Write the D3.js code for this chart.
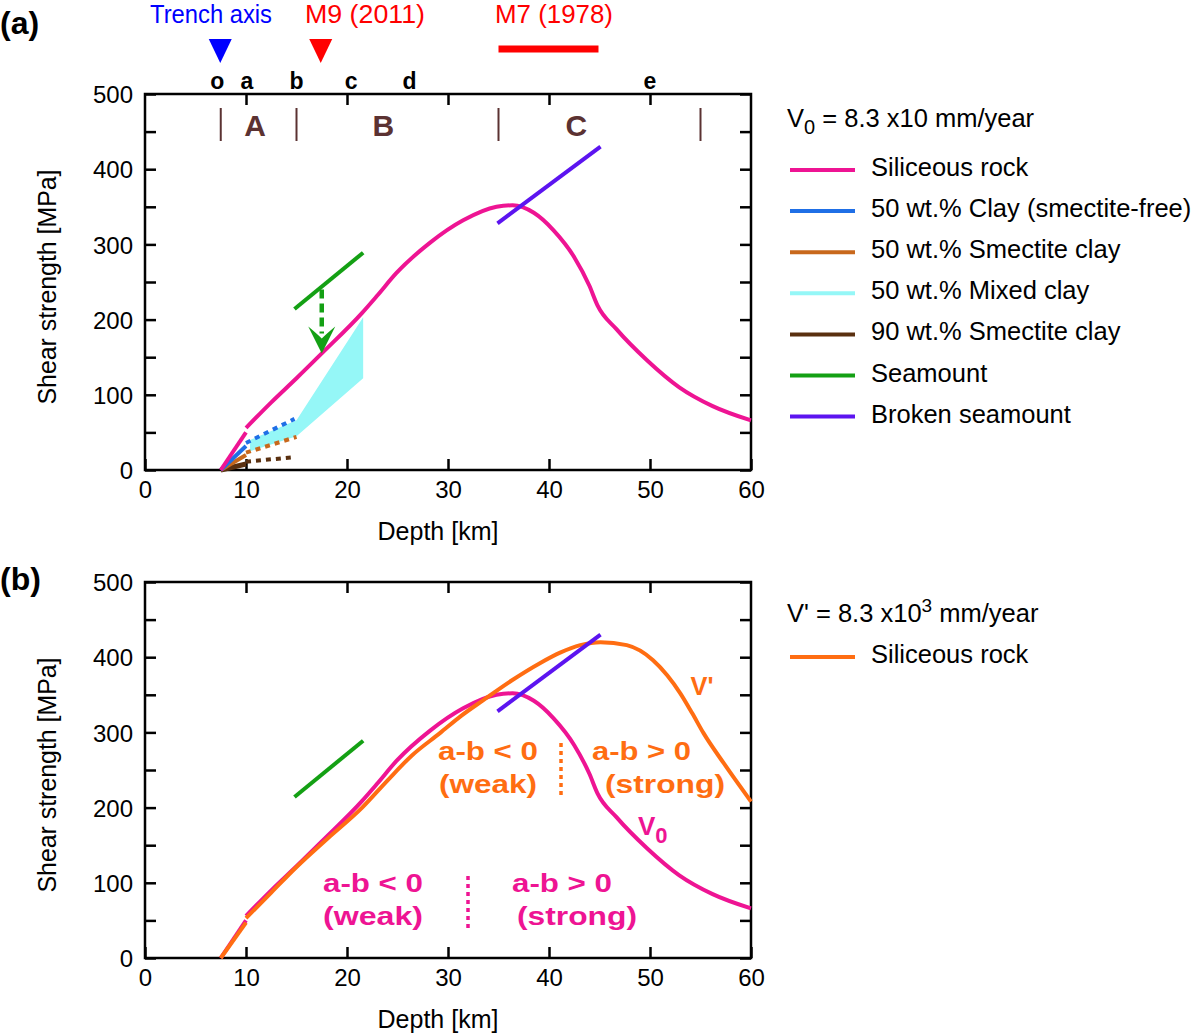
<!DOCTYPE html>
<html><head><meta charset="utf-8">
<script src="https://cdn.jsdelivr.net/npm/d3@7"></script>
<style>
body{margin:0;background:#fff;}
text{font-family:"Liberation Sans",Arial,sans-serif;}
</style></head>
<body><svg id="c" width="1200" height="1033"></svg>
<script>
// ---------------- data ----------------
const depthTicks = [0,10,20,30,40,50,60];
const strengthTicks = [0,50,100,150,200,250,300,350,400,450,500];
const strengthLabels = [0,100,200,300,400,500];

// Panel (a)
const siliceousLow = [[7.5,0],[10,50]];
const siliceousV0 = [[10,56],[12.5,90],[15,122],[17.5,155],[21.5,209],[23,232],[24.9,262],[28.2,302],[31.5,332],[34.8,350],[36.4,352],[38.5,342],[40.5,318],[42.5,283],[44,245],[44.8,219],[46.7,187],[49.7,146],[52.9,110],[56.2,85],[60,66]];
const clayFreeSolid = [[7.5,0],[10,32]];
const clayFreeDotted = [[10,36],[14.8,68]];
const smectite50Solid = [[7.5,0],[10,20]];
const smectite50Dotted = [[10,23],[15,44]];
const smectite90Solid = [[7.5,0],[10,8]];
const smectite90Dotted = [[10,11],[14.7,17]];
const mixedClayPoly = [[10.4,40],[15,66],[21.6,203],[21.6,122],[15,45],[10.4,25]];
const seamount = [[14.8,214],[21.6,289]];
const brokenSeamount = [[34.9,328],[45.1,430]];
const arrowFrom = [17.5,240], arrowTo = [17.5,155];

// Panel (b)
const vPrimeLow = [[7.5,0],[10,47]];
const vPrime = [[10,53],[12.5,87],[15,121],[18,158],[21.5,200],[24,236],[26.4,269],[29.2,299],[31.3,322],[33.5,343],[36.3,369],[39.1,392],[41.1,406],[43.1,416],[45.1,420],[47.7,416],[50.3,396],[51.7,376],[53,352],[54.2,325],[55.3,299],[57.3,259],[60,208]];

// top annotations
const siteLabels = ["o","a","b","c","d","e"];
const siteDepths = [7.15,10.1,15.0,20.4,26.2,50.0];
const regionBounds = [7.5,15,35,55];
const regionLabels = ["A","B","C"];
const regionCenters = [10.9,23.6,42.7];
const trenchDepth = 7.45, m9Depth = 17.4, m7Range = [35.0,44.9];

const legendA = ["Siliceous  rock","50 wt.% Clay (smectite-free)","50 wt.% Smectite clay","50 wt.% Mixed clay","90 wt.% Smectite clay","Seamount","Broken seamount"];
const COL = {pink:"#ee1493",blue:"#1f6fe6",smect:"#c8681c",mixed:"#95f7f7",brown:"#5a3010",green:"#14a014",purple:"#5c14f0",orange:"#ff6d12",region:"#5b3232"};
const legendColors = [COL.pink,COL.blue,COL.smect,COL.mixed,COL.brown,COL.green,COL.purple];

// ---------------- drawing ----------------
const svg = d3.select("#c");
const x = d3.scaleLinear().domain([0,60]).range([145,751]);
const ya = d3.scaleLinear().domain([0,500]).range([470,94]);
const yb = d3.scaleLinear().domain([0,500]).range([958,582]);

function txt(tx,ty,str,opt){
  opt = opt||{};
  const t = svg.append("text").attr("x",tx).attr("y",ty).attr("text-anchor",opt.anchor||"middle")
    .attr("font-size",opt.size||25).attr("fill",opt.color||"#000").text(str);
  if(opt.bold) t.attr("font-weight","bold");
  if(opt.len) t.attr("textLength",opt.len).attr("lengthAdjust","spacingAndGlyphs");
  return t;
}

function frame(y){
  const g = svg.append("g");
  const tl = 11;
  const bx = g.append("g").attr("transform",`translate(0,${y(0)})`)
    .call(d3.axisBottom(x).tickValues(depthTicks).tickSize(-tl).tickSizeOuter(0).tickPadding(11));
  const tx = g.append("g").attr("transform",`translate(0,${y(500)})`)
    .call(d3.axisTop(x).tickValues(depthTicks.slice(1,-1)).tickSize(-tl).tickSizeOuter(0).tickFormat(""));
  const ly = g.append("g").attr("transform",`translate(${x(0)},0)`)
    .call(d3.axisLeft(y).tickValues(strengthTicks).tickSize(-tl).tickSizeOuter(0).tickPadding(12)
      .tickFormat(d=>strengthLabels.includes(d)?d:""));
  const ry = g.append("g").attr("transform",`translate(${x(60)},0)`)
    .call(d3.axisRight(y).tickValues(strengthTicks).tickSize(-tl).tickSizeOuter(0).tickFormat(""));
  [bx,tx,ly,ry].forEach(a=>{
    a.select(".domain").remove();
    a.selectAll("line").attr("stroke","#000").attr("stroke-width",2.5);
    a.selectAll("text").attr("font-size",24).attr("fill","#000")
      .attr("font-family","'Liberation Sans',sans-serif");
  });
  ly.selectAll("text").attr("dy","0.36em");
  g.append("rect").attr("x",x(0)).attr("y",y(500)).attr("width",x(60)-x(0)).attr("height",y(0)-y(500))
    .attr("fill","none").attr("stroke","#000").attr("stroke-width",2.5);
  g.append("text").attr("x",438).attr("y",y(0)+70).attr("text-anchor","middle")
    .attr("font-size",25).attr("textLength",121).attr("lengthAdjust","spacingAndGlyphs").text("Depth [km]");
  g.append("text").attr("transform",`translate(56,${(y(0)+y(500))/2+5}) rotate(-90)`).attr("text-anchor","middle")
    .attr("font-size",25).attr("textLength",235).attr("lengthAdjust","spacingAndGlyphs").text("Shear strength [MPa]");
}

function path(data,y,color,w,dash){
  const line = d3.line().x(d=>x(d[0])).y(d=>y(d[1])).curve(data.length>2?d3.curveMonotoneX:d3.curveLinear);
  const p = svg.append("path").attr("d",line(data)).attr("fill","none").attr("stroke",color)
    .attr("stroke-width",w||4).attr("stroke-linecap","butt").attr("stroke-linejoin","round");
  if(dash) p.attr("stroke-dasharray",dash);
  return p;
}

// ---- Panel (a) ----
frame(ya);
txt(0,34,"(a)",{anchor:"start",size:32,bold:true});

svg.append("path").attr("d",d3.line().x(d=>x(d[0])).y(d=>ya(d[1]))(mixedClayPoly)+"Z")
  .attr("fill",COL.mixed).attr("stroke","none");
path(smectite90Solid,ya,COL.brown,5);
path(smectite90Dotted,ya,COL.brown,4,"5,5");
path(smectite50Solid,ya,COL.smect,4);
path(smectite50Dotted,ya,COL.smect,4,"5,5");
path(clayFreeSolid,ya,COL.blue,4);
path(clayFreeDotted,ya,COL.blue,4,"5,5");
path(siliceousLow,ya,COL.pink,4);
path(siliceousV0,ya,COL.pink,4);
path(seamount,ya,COL.green,4);
path(brokenSeamount,ya,COL.purple,4);
{
  const ax = x(arrowFrom[0]);
  const tipY = ya(arrowTo[1]);
  svg.append("line").attr("x1",ax).attr("x2",ax).attr("y1",ya(arrowFrom[1])).attr("y2",tipY-20)
    .attr("stroke",COL.green).attr("stroke-width",4.5).attr("stroke-dasharray","9,5");
  svg.append("path").attr("d",`M${ax-13.5},${tipY-27} Q${ax-5},${tipY-20} ${ax},${tipY-15} Q${ax+5},${tipY-20} ${ax+13.5},${tipY-27} L${ax},${tipY} Z`)
    .attr("fill",COL.green);
}
regionBounds.forEach(d=>svg.append("line").attr("x1",x(d)).attr("x2",x(d)).attr("y1",108).attr("y2",141)
  .attr("stroke",COL.region).attr("stroke-width",2));
regionLabels.forEach((l,i)=>txt(x(regionCenters[i]),136,l,{size:30,bold:true,color:COL.region}));
siteLabels.forEach((l,i)=>txt(x(siteDepths[i]),89,l,{size:23,bold:true}));
svg.append("path").attr("d",`M${x(trenchDepth)-11.5},39 L${x(trenchDepth)+11.5},39 L${x(trenchDepth)},63 Z`).attr("fill","#0000ff");
svg.append("path").attr("d",`M${x(m9Depth)-11.5},39 L${x(m9Depth)+11.5},39 L${x(m9Depth)},63 Z`).attr("fill","#ff0000");
svg.append("line").attr("x1",x(m7Range[0])).attr("x2",x(m7Range[1])).attr("y1",49).attr("y2",49)
  .attr("stroke","#ff0000").attr("stroke-width",7);
txt(211,23,"Trench axis",{size:25,color:"#0000ff",len:122});
txt(365,23,"M9 (2011)",{size:25,color:"#ff0000",len:120});
txt(554,23,"M7 (1978)",{size:25,color:"#ff0000",len:118});

// legend (a)
{
  const t = svg.append("text").attr("x",787).attr("y",127).attr("font-size",25.5);
  t.append("tspan").text("V");
  t.append("tspan").attr("dy",7).attr("font-size",20).text("0");
  t.append("tspan").attr("dy",-7).text(" = 8.3 x10 mm/year");
  legendA.forEach((l,i)=>{
    const yy = 170 + i*41.1;
    svg.append("line").attr("x1",790).attr("x2",855).attr("y1",yy).attr("y2",yy)
      .attr("stroke",legendColors[i]).attr("stroke-width",4);
    svg.append("text").attr("x",871).attr("y",yy+6).attr("font-size",25.5).text(l);
  });
}

// ---- Panel (b) ----
frame(yb);
txt(0,590,"(b)",{anchor:"start",size:32,bold:true});
path(seamount,yb,COL.green,4);
path(siliceousLow,yb,COL.pink,4);
path(siliceousV0,yb,COL.pink,4);
path(vPrimeLow,yb,COL.orange,4);
path(vPrime,yb,COL.orange,4);
path(brokenSeamount,yb,COL.purple,4);

txt(488,760,"a-b < 0",{bold:true,color:COL.orange,len:100});
txt(488,793,"(weak)",{bold:true,color:COL.orange,len:98});
txt(641.5,760,"a-b > 0",{bold:true,color:COL.orange,len:99});
txt(665,793,"(strong)",{bold:true,color:COL.orange,len:120});
svg.append("line").attr("x1",561).attr("x2",561).attr("y1",743).attr("y2",797)
  .attr("stroke",COL.orange).attr("stroke-width",3.5).attr("stroke-dasharray","4,4");
txt(373,892,"a-b < 0",{bold:true,color:COL.pink,len:100});
txt(373,925,"(weak)",{bold:true,color:COL.pink,len:100});
txt(562,892,"a-b > 0",{bold:true,color:COL.pink,len:100});
txt(577,925,"(strong)",{bold:true,color:COL.pink,len:120});
svg.append("line").attr("x1",468).attr("x2",468).attr("y1",876).attr("y2",932)
  .attr("stroke",COL.pink).attr("stroke-width",3.5).attr("stroke-dasharray","4,4");
txt(702,695,"V'",{bold:true,color:COL.orange,len:23});
{
  const t = svg.append("text").attr("x",638).attr("y",835).attr("font-size",26).attr("font-weight","bold")
    .attr("fill",COL.pink);
  t.append("tspan").text("V");
  t.append("tspan").attr("dy",8).attr("font-size",22).text("0");
}
// legend (b)
{
  const t = svg.append("text").attr("x",787).attr("y",622).attr("font-size",25.5);
  t.append("tspan").text("V' = 8.3 x10");
  t.append("tspan").attr("dy",-10).attr("font-size",19).text("3");
  t.append("tspan").attr("dy",10).text(" mm/year");
  svg.append("line").attr("x1",790).attr("x2",855).attr("y1",657).attr("y2",657)
    .attr("stroke",COL.orange).attr("stroke-width",4);
  svg.append("text").attr("x",871).attr("y",663).attr("font-size",25.5).text("Siliceous rock");
}
</script></body></html>
